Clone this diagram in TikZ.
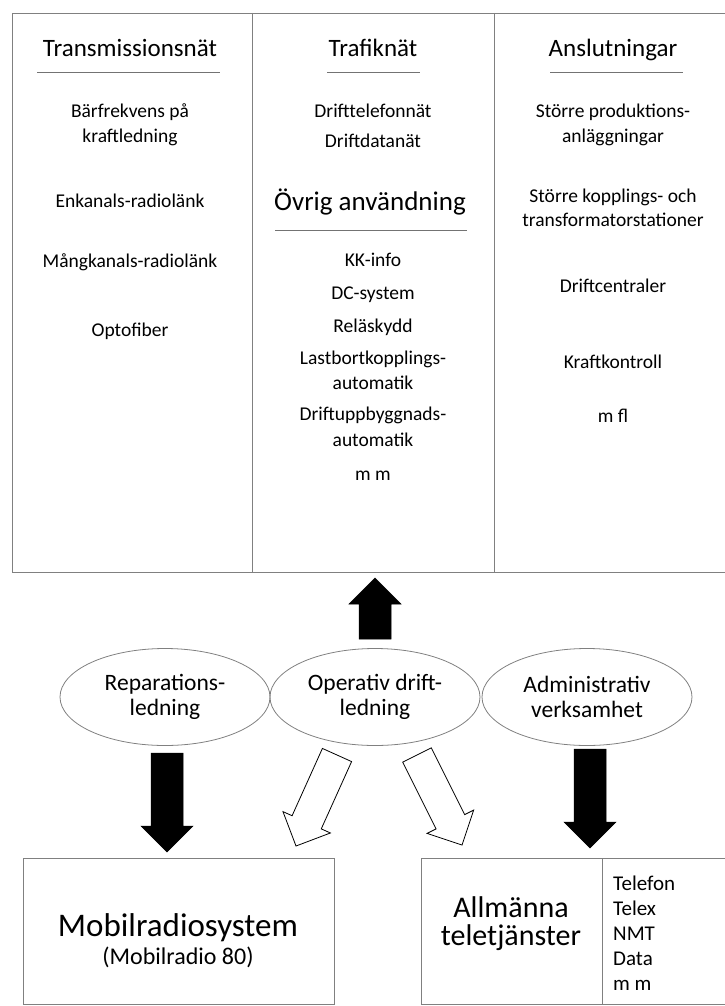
\documentclass[tikz,border=0pt]{standalone}
\usepackage{fontspec}
\setmainfont{Carlito}
\usetikzlibrary{calc,shapes.geometric}
\newcommand\blkarrow[3]{%
  \path (#3) coordinate (T) (#2) coordinate (S);
  \path ($(T)!26pt!(S)$) coordinate (H);
  \draw[#1] (T) -- ($(H)!26pt!90:(T)$) -- ($(H)!16pt!90:(T)$)
     -- ($(S)!16pt!90:(T)$) -- ($(S)!16pt!-90:(T)$)
     -- ($(H)!16pt!-90:(T)$) -- ($(H)!26pt!-90:(T)$) -- cycle;}
\begin{document}
\begin{tikzpicture}[x=1pt,y=-1pt,
  frame/.style={draw=black!50, line width=0.9pt},
  uline/.style={draw=black!55, line width=0.9pt},
  txt/.style={inner sep=0pt, text height=0.7em, text depth=0.2em, align=center,
    font=\fontsize{19.5}{24}\selectfont},
  ttl/.style={txt, font=\fontsize{25}{30}\selectfont},
  ell/.style={draw=black!50, line width=0.8pt, ellipse, minimum width=210pt,
    minimum height=97pt, inner sep=0pt, align=center,
    font=\fontsize{23.5}{25}\selectfont},
  big/.style={inner sep=0pt, align=center, font=\fontsize{33}{28}\selectfont},
  solidarrow/.style={fill=black, draw=black, line width=0.5pt, line join=miter},
  hollowarrow/.style={fill=white, draw=black, line width=0.8pt, line join=miter}
]
\useasboundingbox (0,0) rectangle (725,1006);
% ---------- top frame ----------
\draw[frame] (725,13) -- (12,13) -- (12,572) -- (725,572);
\draw[frame] (252,13) -- (252,572);
\draw[frame] (494,13) -- (494,572);
% ---------- column 1 ----------
\node[ttl] (t1) at (130,54) {Transmissionsnät};
\draw[uline] (37,72) -- (220,72);
\node[txt] (a1) at (130,115) {Bärfrekvens på};
\node[txt] (a2) at (130,140) {kraftledning};
\node[txt] (a3) at (130,205) {Enkanals-radiolänk};
\node[txt] (a4) at (130,265) {Mångkanals-radiolänk};
\node[txt] (a5) at (130,334) {Optofiber};
% ---------- column 2 ----------
\node[ttl] (t2) at (373,54) {Trafiknät};
\draw[uline] (327,72) -- (420,72);
\node[txt] (b1) at (373,115) {Drifttelefonnät};
\node[txt] (b2) at (373,145) {Driftdatanät};
\node[ttl, font=\fontsize{27}{30}\selectfont] (t4) at (370,208) {Övrig användning};
\draw[uline] (275,230) -- (467,230);
\node[txt] (b3) at (373,264) {KK-info};
\node[txt] (b4) at (373,297) {DC-system};
\node[txt] (b5) at (373,330) {Reläskydd};
\node[txt] (b6) at (373,362) {Lastbortkopplings-};
\node[txt] (b7) at (373,387) {automatik};
\node[txt] (b8) at (373,418) {Driftuppbyggnads-};
\node[txt] (b9) at (373,444) {automatik};
\node[txt] (b10) at (373,478) {m m};
% ---------- column 3 ----------
\node[ttl] (t3) at (613,54) {Anslutningar};
\draw[uline] (550,72) -- (683,72);
\node[txt] (c1) at (613,115) {Större produktions-};
\node[txt] (c2) at (613,140) {anläggningar};
\node[txt] (c3) at (613,200) {Större kopplings- och};
\node[txt] (c4) at (613,224) {transformatorstationer};
\node[txt] (c5) at (613,290) {Driftcentraler};
\node[txt] (c6) at (613,366) {Kraftkontroll};
\node[txt] (c7) at (613,420) {m fl};
% ---------- ellipses ----------
\node[ell] (e1) at (165,697) {Reparations-\\ledning};
\node[ell] (e2) at (375,697) {Operativ drift-\\ledning};
\node[ell] (e3) at (587,697) {Administrativ\\verksamhet};
% ---------- lower boxes ----------
\draw[frame] (23,858) rectangle (334,1004);
\draw[frame] (725,858) -- (421,858) -- (421,1004) -- (725,1004);
\draw[frame] (602,858) -- (602,1004);
\node[big] (m1) at (178,928) {Mobilradiosystem};
\node[inner sep=0pt, font=\fontsize{24}{28}\selectfont] (m2) at (178,957) {(Mobilradio 80)};
\node[big, font=\fontsize{30}{28}\selectfont] (p1) at (511,924) {Allmänna\\teletjänster};
\node[inner sep=0pt, anchor=west, align=left, font=\fontsize{21}{25}\selectfont] (p2) at (613,933)
  {Telefon\\Telex\\NMT\\Data\\m m};
% ---------- arrows ----------
\coordinate (upS) at (375,639);  \coordinate (upT) at (375,578);
\coordinate (lS) at (167,753);   \coordinate (lT) at (167,852);
\coordinate (rS) at (590,749);   \coordinate (rT) at (590,848);
\coordinate (hlS) at (337,755);  \coordinate (hlT) at (296,846);
\coordinate (hrS) at (417,755);  \coordinate (hrT) at (462,845);
\blkarrow{solidarrow}{upS}{upT}
\blkarrow{solidarrow}{lS}{lT}
\blkarrow{solidarrow}{rS}{rT}
\blkarrow{hollowarrow}{hlS}{hlT}
\blkarrow{hollowarrow}{hrS}{hrT}
\end{tikzpicture}
\end{document}
